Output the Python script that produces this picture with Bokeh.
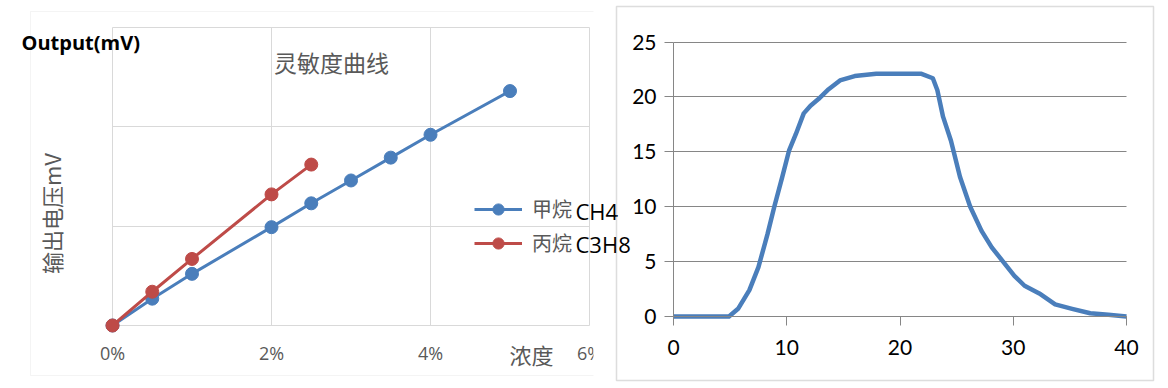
import math
from bokeh.plotting import figure
from bokeh.models import (Range1d, FixedTicker, PrintfTickFormatter, Label,
                          BoxAnnotation, Legend, LegendItem)
from bokeh.layouts import row
from bokeh.embed import file_html
from bokeh.resources import INLINE

# ---------------- data ----------------
# left chart: sensitivity curve (concentration %, output)
conc_ch4 = [0, 0.5, 1, 2, 2.5, 3, 3.5, 4, 5]
out_ch4 = [0, 0.27, 0.52, 0.99, 1.23, 1.46, 1.69, 1.92, 2.36]
conc_c3h8 = [0, 0.5, 1, 2, 2.5]
out_c3h8 = [0, 0.34, 0.67, 1.32, 1.62]
left_xticks = [0, 2, 4, 6]
left_yticks = [0, 1, 2, 3]

# right chart: response curve
t_resp = [0, 2, 4, 4.9, 5.7, 6.7, 7.5, 8.3, 8.9, 9.6, 10.2, 10.8, 11.5, 12.1,
          12.8, 13.7, 14.7, 16, 17.9, 20.1, 21.9, 22.9, 23.3, 23.8, 24.5, 25.3,
          26.2, 27.2, 28.1, 29.1, 30.1, 31, 32.3, 33.7, 35.2, 36.8, 38.4, 40]
v_resp = [0, 0, 0, 0, 0.7, 2.4, 4.5, 7.5, 10, 12.7, 15.1, 16.6, 18.5, 19.2,
          19.8, 20.7, 21.5, 21.9, 22.1, 22.1, 22.1, 21.7, 20.6, 18.2, 16, 12.7,
          10, 7.8, 6.3, 5, 3.7, 2.8, 2.1, 1.1, 0.7, 0.3, 0.15, 0]
right_xticks = [0, 10, 20, 30, 40]
right_yticks = [0, 5, 10, 15, 20, 25]

BLUE = "#4a7ebb"
RED = "#be4b48"
GRAY_TXT = "#595959"
LIGHT = "#d9d9d9"
AXIS_GRAY = "#868686"

H = 388
LW = 640            # left canvas width
RW = 556            # right canvas width
R_OFF = 612         # page x where the right canvas starts


def span(p0, p1, v0, v1, size):
    """Range so that value v0 lands at pixel p0 and v1 at p1 on a canvas of `size`."""
    k = (p1 - p0) / (v1 - v0)
    return v0 - p0 / k, v0 + (size - p0) / k


def vspan(p0, p1, v0, v1, size):
    k = (p0 - p1) / (v1 - v0)
    return v0 - (size - p0) / k, v0 + p0 / k


# ---------------- left figure ----------------
lx = span(112, 589, 0, 6, LW)
ly = vspan(325, 27, 0, 3, H)
L = figure(width=LW, height=H, output_backend="svg", toolbar_location=None,
           title=None, x_range=Range1d(*lx), y_range=Range1d(*ly),
           min_border=0)
L.outline_line_color = None
L.yaxis.visible = False
L.xaxis.fixed_location = 0
L.xaxis.ticker = FixedTicker(ticks=left_xticks)
L.xaxis.formatter = PrintfTickFormatter(format="%d%%")
L.xaxis.axis_line_color = None
L.xaxis.major_tick_line_color = None
L.xaxis.minor_tick_line_color = None
L.xaxis.major_tick_out = 0
L.xaxis.major_tick_in = 0
L.xaxis.major_label_standoff = 15
L.xaxis.major_label_text_font = "Open Sans"
L.xaxis.major_label_text_font_size = "18px"
L.xaxis.major_label_text_color = GRAY_TXT

L.xgrid.ticker = FixedTicker(ticks=left_xticks)
L.ygrid.ticker = FixedTicker(ticks=left_yticks)
L.xgrid.cross_bounds = (0, 3)
L.ygrid.cross_bounds = (0, 6)
for g in (L.xgrid, L.ygrid):
    g.grid_line_color = LIGHT
    g.grid_line_width = 1

# outer light frame of the left picture (canvas px, y measured from bottom)
outer = BoxAnnotation(left=30, right=900, top=H - 11, bottom=H - 375,
                      left_units="screen", right_units="screen",
                      top_units="screen", bottom_units="screen",
                      fill_color=None, fill_alpha=0, line_color=LIGHT,
                      line_width=1, level="underlay")
L.add_layout(outer)

l1 = L.line(conc_ch4, out_ch4, line_color=BLUE, line_width=3)
s1 = L.scatter(conc_ch4, out_ch4, size=13, fill_color=BLUE, line_color=BLUE)
l2 = L.line(conc_c3h8, out_c3h8, line_color=RED, line_width=3)
s2 = L.scatter(conc_c3h8, out_c3h8, size=13, fill_color=RED, line_color=RED)

legend = Legend(items=[LegendItem(label="甲烷", renderers=[l1, s1]),
                       LegendItem(label="丙烷", renderers=[l2, s2])],
                location=(474, H - 257), glyph_width=48, glyph_height=28,
                label_height=28, spacing=5, padding=0, margin=0,
                label_standoff=10, border_line_color=None,
                background_fill_alpha=0, label_text_font="Noto Sans CJK SC",
                label_text_font_size="20px", label_text_color=GRAY_TXT)
L.add_layout(legend)

# the picture is cut off at x=593
cover = BoxAnnotation(left=593, right=900, top=600, bottom=-100,
                      left_units="screen", right_units="screen",
                      top_units="screen", bottom_units="screen",
                      fill_color="white", fill_alpha=1, line_color=None,
                      level="overlay")
L.add_layout(cover)


def lab(fig, x, y, text, **kw):
    fig.add_layout(Label(x=x, y=y, x_units="screen", y_units="screen",
                         text=text, level="overlay", **kw))


lab(L, 331, H - 61, "灵敏度曲线", text_align="center", text_baseline="middle",
    text_font="Noto Sans CJK SC", text_font_size="23px", text_color=GRAY_TXT)
lab(L, 21, H - 42, "Output(mV)", text_align="left", text_baseline="middle",
    text_font="Open Sans", text_font_style="bold", text_font_size="20px",
    text_color="black")
lab(L, 50, H - 213, "输出电压mV", text_align="center", text_baseline="middle",
    angle=math.pi / 2, text_font="Noto Sans CJK SC", text_font_size="22px",
    text_color=GRAY_TXT)
lab(L, 531, H - 353, "浓度", text_align="center", text_baseline="middle",
    text_font="Noto Sans CJK SC", text_font_size="22px", text_color=GRAY_TXT)
lab(L, 575, H - 210, "CH4", text_align="left", text_baseline="middle",
    text_font="Open Sans", text_font_size="22px", text_color="black")
lab(L, 575, H - 243, "C3H8", text_align="left", text_baseline="middle",
    text_font="Open Sans", text_font_size="22px", text_color="black")

# ---------------- right figure ----------------
rx = span(673 - R_OFF, 1126 - R_OFF, 0, 40, RW)
ry = vspan(316, 41.5, 0, 25, H)
R = figure(width=RW, height=H, output_backend="svg", toolbar_location=None,
           title=None, x_range=Range1d(*rx), y_range=Range1d(*ry),
           min_border=0, background_fill_color=None, border_fill_color=None)
R.margin = (0, 0, 0, R_OFF - LW)
R.outline_line_color = None
R.xgrid.visible = False
R.ygrid.ticker = FixedTicker(ticks=right_yticks)
R.ygrid.cross_bounds = (0, 40)
R.ygrid.grid_line_color = AXIS_GRAY
R.ygrid.grid_line_width = 1

R.xaxis.ticker = FixedTicker(ticks=right_xticks)
R.yaxis.ticker = FixedTicker(ticks=right_yticks)
R.xaxis.fixed_location = 0
R.yaxis.fixed_location = 0
R.xaxis.bounds = (0, 40)
R.yaxis.bounds = (0, 25)
for ax in (R.xaxis, R.yaxis):
    ax.axis_line_color = AXIS_GRAY
    ax.axis_line_width = 1
    ax.major_tick_line_color = AXIS_GRAY
    ax.major_tick_out = 9
    ax.major_tick_in = 0
    ax.minor_tick_line_color = None
    ax.major_label_text_font = "Lato"
    ax.major_label_text_font_size = "21px"
    ax.major_label_text_color = "black"
R.xaxis.major_label_standoff = 14
R.yaxis.major_label_standoff = 8

R.line(t_resp, v_resp, line_color=BLUE, line_width=4.5, line_join="round")

frame_box = BoxAnnotation(left=616 - R_OFF, right=1153 - R_OFF,
                          top=H - 6, bottom=H - 380,
                          left_units="screen", right_units="screen",
                          top_units="screen", bottom_units="screen",
                          fill_color=None, fill_alpha=0, line_color="#909090",
                          line_width=1.5)
R.add_layout(frame_box)

layout = row(L, R)
open("out.html", "w").write(file_html(layout, INLINE))
